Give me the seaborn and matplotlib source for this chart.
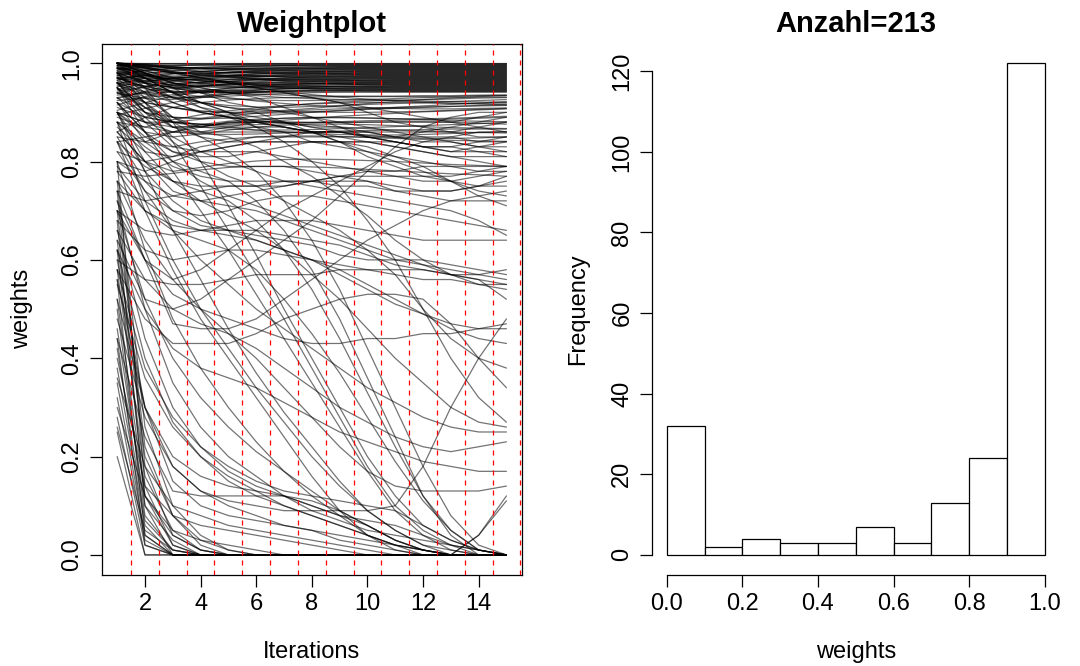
import numpy as np
import pandas as pd
import matplotlib
matplotlib.use("Agg")
import matplotlib.pyplot as plt
import seaborn as sns

# ---------------- data ----------------
iterations = list(range(1, 16))

# weight trajectories (in hundredths) for iterations 1..15
top_band = [
    "100 100 100 100 100 100 100 100 100 100 100 100 100 100 100",
    "99.5 99.8 99.9 99.9 99.9 99.9 99.9 99.9 99.9 99.9 99.9 99.9 99.9 99.9 99.9",
    "100 99.6 99.5 99.6 99.7 99.8 99.8 99.8 99.8 99.8 99.8 99.8 99.8 99.8 99.8",
    "98.6 99.2 99.5 99.6 99.7 99.7 99.7 99.7 99.7 99.7 99.7 99.7 99.7 99.7 99.7",
    "99.9 99.4 99.0 99.1 99.3 99.4 99.5 99.6 99.6 99.6 99.6 99.6 99.6 99.6 99.6",
    "97.4 98.5 99.0 99.2 99.3 99.4 99.5 99.5 99.5 99.5 99.5 99.5 99.5 99.5 99.5",
    "100 99.9 99.8 99.7 99.6 99.5 99.5 99.4 99.4 99.4 99.4 99.4 99.4 99.4 99.4",
    "99.0 98.2 97.9 98.3 98.7 99.0 99.1 99.2 99.3 99.3 99.3 99.3 99.3 99.3 99.3",
    "96.5 97.8 98.5 98.9 99.1 99.2 99.2 99.2 99.2 99.2 99.2 99.2 99.2 99.2 99.2",
    "100 99.6 99.2 99.0 98.9 98.9 99.0 99.0 99.1 99.1 99.1 99.1 99.1 99.1 99.1",
    "98.2 97.0 96.8 97.5 98.1 98.5 98.7 98.9 99.0 99.0 99.0 99.0 99.0 99.0 99.0",
    "99.5 99.3 99.1 99.0 98.9 98.9 98.9 98.9 98.9 98.9 98.9 98.9 98.9 98.9 98.9",
    "95.8 96.9 97.8 98.3 98.6 98.7 98.8 98.8 98.8 98.8 98.8 98.8 98.8 98.8 98.8",
    "100 98.9 98.0 97.9 98.1 98.3 98.5 98.6 98.7 98.7 98.7 98.7 98.7 98.7 98.7",
    "97.8 98.6 98.9 98.9 98.8 98.7 98.6 98.6 98.6 98.6 98.6 98.6 98.6 98.6 98.6",
    "99.2 97.6 96.5 96.7 97.3 97.8 98.1 98.3 98.4 98.5 98.5 98.5 98.5 98.5 98.5",
    "94.6 96.0 97.1 97.8 98.1 98.3 98.4 98.4 98.4 98.4 98.4 98.4 98.4 98.4 98.4",
    "100 99.7 99.3 99.0 98.7 98.5 98.4 98.3 98.3 98.3 98.3 98.3 98.3 98.3 98.3",
    "98.8 97.4 96.9 97.2 97.6 97.9 98.0 98.1 98.2 98.2 98.2 98.2 98.2 98.2 98.2",
    "96.9 97.5 97.9 98.0 98.1 98.1 98.1 98.1 98.1 98.1 98.1 98.1 98.1 98.1 98.1",
    "100 98.4 97.2 96.8 97.0 97.3 97.6 97.8 97.9 98.0 98.0 98.0 98.0 98.0 98.0",
    "99.6 99.0 98.6 98.3 98.1 98.0 97.9 97.9 97.9 97.9 97.9 97.9 97.9 97.9 97.9",
    "93.8 95.2 96.3 97.0 97.4 97.6 97.7 97.8 97.8 97.8 97.8 97.8 97.8 97.8 97.8",
    "98.5 96.8 95.9 96.1 96.7 97.1 97.4 97.5 97.6 97.7 97.7 97.7 97.7 97.7 97.7",
    "100 99.8 99.3 98.8 98.4 98.1 97.9 97.8 97.7 97.6 97.6 97.6 97.6 97.6 97.6",
    "97.0 97.3 97.4 97.5 97.5 97.5 97.5 97.5 97.5 97.5 97.5 97.5 97.5 97.5 97.5",
    "99.3 97.8 96.4 96.0 96.3 96.7 97.0 97.2 97.3 97.4 97.4 97.4 97.4 97.4 97.4",
    "95.2 96.4 97.0 97.2 97.3 97.3 97.3 97.3 97.3 97.3 97.3 97.3 97.3 97.3 97.3",
    "100 99.1 98.3 97.8 97.5 97.3 97.2 97.2 97.2 97.2 97.2 97.2 97.2 97.2 97.2",
    "98.0 96.4 95.5 95.7 96.2 96.6 96.8 96.9 97.0 97.1 97.1 97.1 97.1 97.1 97.1",
    "92.8 94.3 95.5 96.2 96.6 96.8 96.9 97.0 97.0 97.0 97.0 97.0 97.0 97.0 97.0",
    "99.8 99.5 99.0 98.4 97.9 97.5 97.2 97.0 96.9 96.9 96.9 96.9 96.9 96.9 96.9",
    "97.5 95.9 95.0 95.3 95.8 96.2 96.5 96.6 96.7 96.8 96.8 96.8 96.8 96.8 96.8",
    "96.1 96.4 96.6 96.7 96.7 96.7 96.7 96.7 96.7 96.7 96.7 96.7 96.7 96.7 96.7",
    "100 98.0 96.5 95.8 95.7 95.9 96.1 96.3 96.4 96.5 96.6 96.6 96.6 96.6 96.6",
    "94.3 95.2 95.8 96.1 96.3 96.4 96.5 96.5 96.5 96.5 96.5 96.5 96.5 96.5 96.5",
    "99.0 98.6 98.1 97.6 97.2 96.9 96.7 96.6 96.5 96.4 96.4 96.4 96.4 96.4 96.4",
    "97.0 95.2 94.2 94.4 94.9 95.4 95.7 95.9 96.1 96.2 96.3 96.3 96.3 96.3 96.3",
    "91.5 93.2 94.5 95.3 95.8 96.0 96.1 96.2 96.2 96.2 96.2 96.2 96.2 96.2 96.2",
    "100 99.2 98.3 97.6 97.1 96.7 96.4 96.3 96.2 96.1 96.1 96.1 96.1 96.1 96.1",
    "96.4 94.8 94.0 94.3 94.9 95.3 95.6 95.8 95.9 96.0 96.0 96.0 96.0 96.0 96.0",
    "98.2 97.5 96.9 96.5 96.2 96.0 95.9 95.9 95.9 95.9 95.9 95.9 95.9 95.9 95.9",
    "93.0 94.1 94.9 95.4 95.6 95.7 95.8 95.8 95.8 95.8 95.8 95.8 95.8 95.8 95.8",
    "99.5 97.6 95.9 95.2 95.0 95.1 95.3 95.5 95.6 95.7 95.7 95.7 95.7 95.7 95.7",
    "95.9 95.4 95.3 95.4 95.5 95.6 95.6 95.6 95.6 95.6 95.6 95.6 95.6 95.6 95.6",
    "100 99.6 98.9 98.1 97.4 96.8 96.3 96.0 95.8 95.6 95.5 95.5 95.5 95.5 95.5",
    "94.0 92.8 92.6 93.3 94.0 94.5 94.9 95.1 95.3 95.4 95.4 95.4 95.4 95.4 95.4",
    "97.6 96.3 95.6 95.3 95.2 95.2 95.3 95.3 95.3 95.3 95.3 95.3 95.3 95.3 95.3",
    "90.4 92.0 93.3 94.1 94.6 94.9 95.1 95.2 95.2 95.2 95.2 95.2 95.2 95.2 95.2",
    "99.0 97.0 95.4 94.6 94.4 94.5 94.7 94.9 95.0 95.1 95.1 95.1 95.1 95.1 95.1",
    "96.6 96.9 96.8 96.5 96.1 95.8 95.5 95.3 95.2 95.1 95.0 95.0 95.0 95.0 95.0",
    "92.4 93.0 93.6 94.1 94.4 94.6 94.8 94.9 94.9 94.9 94.9 94.9 94.9 94.9 94.9",
    "100 98.5 96.9 95.9 95.3 95.0 94.9 94.8 94.8 94.8 94.8 94.8 94.8 94.8 94.8",
    "95.5 93.7 92.9 93.2 93.7 94.1 94.4 94.5 94.6 94.7 94.7 94.7 94.7 94.7 94.7",
    "98.4 97.8 97.1 96.4 95.9 95.5 95.2 95.0 94.8 94.7 94.6 94.6 94.6 94.6 94.6",
    "89.5 90.8 92.0 93.0 93.7 94.1 94.3 94.4 94.5 94.5 94.5 94.5 94.5 94.5 94.5",
    "97.2 95.3 94.2 94.0 94.1 94.2 94.3 94.4 94.4 94.4 94.4 94.4 94.4 94.4 94.4",
    "100 99.3 98.2 97.1 96.2 95.5 95.0 94.7 94.5 94.4 94.3 94.3 94.3 94.3 94.3",
    "93.5 93.9 94.1 94.2 94.2 94.2 94.2 94.2 94.2 94.2 94.2 94.2 94.2 94.2 94.2",
    "96.0 94.2 93.1 93.0 93.3 93.6 93.8 94.0 94.1 94.1 94.1 94.1 94.1 94.1 94.1",
    "97 95 93 92 91.4 91.1 91 91.2 91.4 91.6 91.8 92 92.2 92.4 92.6",
    "99 96 94 93.2 92.8 92.5 92.4 92.4 92.5 92.6 92.8 93 93.2 93.4 93.5",
    "90 88 88 88.6 89.2 89.8 90.2 90.5 90.7 90.9 91 91.1 91.2 91.3 91.4",
    "96 93 91 90.2 89.9 89.8 89.9 90.1 90.4 90.7 91 91.3 91.6 91.9 92.2",
    "100 98 96 95 94 93.4 93 92.8 92.6 92.5 92.4 92.3 92.2 92.1 92.0",
    "93 90 89 88.7 88.8 89.2 89.6 90 90.3 90.6 90.8 91 91.2 91.4 91.6",
    "98 97 95 94 93 92.3 91.8 91.4 91.1 90.9 90.8 90.7 90.7 90.8 90.9",
    "86 89 91 92 92.5 92.8 93 93.1 93.2 93.3 93.3 93.4 93.4 93.5 93.5",
    "95 92 91 90.3 90 90.1 90.4 90.8 91.3 91.8 92.2 92.6 92.9 93.2 93.4",
    "99 99 98 97 96 95 94.2 93.6 93.1 92.7 92.4 92.1 91.9 91.7 91.5",
    "91 89 88 87.6 87.6 88 88.4 88.8 89.2 89.5 89.8 90.1 90.3 90.5 90.7",
    "97 96 95 94.4 94 93.7 93.5 93.4 93.3 93.2 93.2 93.2 93.1 93.1 93.1",
    "94 91 89 88.8 89.5 90.5 91.3 91.8 92.1 92.3 92.5 92.6 92.7 92.9 93.0",
    "100 97 94 92 91 90.5 90.2 90.1 90 90 90.1 90.2 90.4 90.6 90.8",
    "88 87 88.5 89.5 90.3 90.9 91.4 91.7 91.9 92 92 91.9 91.8 91.8 91.9",
]

upper_band = [
    "95 90 88 87.5 87.4 87.5 87.7 87.9 88.1 88.3 88.4 88.5 88.6 88.8 89",
    "98 93 89 87 86.6 86.4 86.4 86.5 86.7 86.9 87.1 87.3 87.5 87.7 88",
    "90 86 85 85.6 86.4 87 87.4 87.6 87.6 87.5 87.3 87.1 86.9 86.8 86.7",
    "100 96 92 90 89 88.3 87.8 87.4 87 86.7 86.4 86.2 86 85.9 85.8",
    "93 88 86 85.6 85.5 85.6 85.8 86 86.2 86.3 86.4 86.5 86.6 86.6 86.6",
    "85 84 86 87.5 88.2 88.6 88.8 88.9 88.9 88.8 88.7 88.7 88.8 89 89.2",
    "97 95 93 91 90 89 88 87 86 85.3 84.9 84.7 84.7 84.8 85",
    "88 84 83 84 84.6 85 85.2 85.2 85.1 84.9 84.7 84.5 84.3 84.2 84.1",
    "96 90 87 87 88 88 88 87 87 86 85 84 84 83 83",
    "99 98 96 94 92 91 90 89 88 87 86 85 84 83 82",
    "82 80 81 83 84 85 85 86 86 86 86 86 87 88 89",
    "94 92 91 90 89 88 87 86 86 85 85 86 86 87 88",
    "87 82 81 82 83 84 85 85 85 85 84 83 82 82 82",
    "100 99 98 97 96 95 94 93 92 91 90 89 88 87 86",
    "90 88 87 87.2 87.8 88.4 88.8 89 89 88.9 88.7 88.5 88.3 88.2 88.1",
    "96 94 92 90 89 88.3 88 87.9 87.9 88 88.1 88.1 88 87.8 87.6",
    "84 85 86 87 87 87 87 86 86 86 85 85 85 84 84",
    "98 96 95 94 94 94 94 93 92 90 88 87 86 85 85",
    "80 78 80 82 83 84 84 84 84 84 84 83 83 84 85",
    "92 89 88 87.6 87 86.4 86 85.7 85.5 85.4 85.4 85.5 85.7 85.9 86.1",
    "95 91 87 85 84 84 84 84 84 84 83 82 81 81 81",
    "89 87 86 86 87 88 88 88 88 88 88 88 88 89 90",
    "97 92 87 86 86 86 86 86 86 85 84 83 82 83 84",
    "100 98 96 95 94 93 91 89 87 85 84 83 83 82 81",
    "64 52 50 52 56 60 64 68 73 78 83 87 89 90 90",
    "74 60 56 58 62 66 70 73 76 79 82 84 85 86 86",
]

middle_band = [
    "95 88 83 82 82 82 81 80 79 78 77 76 76 77 78",
    "86 80 78 78.8 79.6 80.1 80.4 80.5 80.4 80.2 80 79.7 79.4 79.2 79",
    "98 96 93 92 91 90 88 86 84 81 79 77 76 75 75",
    "78 77 77.6 78.3 78.8 79 79 78.9 78.7 78.4 78.1 77.8 77.5 77.3 77",
    "92 86 82 80 79 79 79 78 77 76 74 73 72 72 72",
    "100 97 94 91 89 87 86 84 83 82 81 80 79 78 78",
    "84 79 76 75 75 75 76 76 77 77 77 77 77 78 79",
    "90 85 82 81 81 82 83 84 84 83 81 79 76 74 73",
    "74 72 73 74 75 75 75 76 76 76 75 74 74 75 76",
    "96 91 88 87 88 88 87 86 84 82 80 78 76 73 71",
    "88 83 79 77 76 76 76 76 75 75 74 74 74 75 77",
    "80 76 73 72 73 74 75 76 77 78 78 79 79 79 79",
    "99 97 94 92 90 88 87 86 85 84 83 82 81 80 79",
    "82 74 70 69 70 72 73 73 72 71 70 69 68 67 66",
    "96 90 85 82 80 78 76 75 74 73 72 71 70 68 65",
    "70 66 65 66 67 68 68 68 67 66 65 64 64 64 64",
    "90 80 74 72 71 70 68 66 64 62 60 59 58 57 56",
    "76 70 67 66 66 66 65 64 63 61 59 58 57 57 58",
    "98 94 89 86 85 83 80 77 73 69 64 60 57 55 54",
    "68 62 60 61 62 62 61 60 59 58 57 56 56 55 55",
    "85 76 70 67 66 65 64 63 61 60 60 60 59 58 57",
    "60 56 55 55 56 57 57 57 58 58 58 58 57 56 55",
    "92 86 80 76 73 71 69 67 65 63 61 59 57 56 52",
    "79 72 68 66 65 64 62 60 57 54 51 49 47 46 46",
    "70 60 53 50 48 46 44 43 43 44 44 45 45 46 47",
    "88 78 72 68 66 64 62 60 58 55 52 49 46 44 43",
    "95 89 84 80 77 75 72 69 66 62 57 50 44 40 38",
    "58 48 43 43 43 45 48 50 52 53 53 52 47 40 34",
    "72 60 47 46 46 48 52 56 60 64 67 70 72 73 74",
    "90 82 76 72 69 66 62 57 52 46 40 35 30 27 26",
    "66 56 50 47 45 42 38 34 30 27 24 22 21 22 23",
    "84 74 66 60 55 50 46 42 38 34 31 28 26 25 25",
    "100 98 95 92 90 87 84 80 75 68 60 50 40 32 27",
    "62 50 42 38 36 34 31 28 25 23 21 19 18 17 17",
    "76 64 56 50 45 40 34 28 22 17 14 13 13 13 14",
]

declining = [
    "88 72 60 50 42 34 27 20 14 9 5 2 1 0 0",
    "70 52 40 32 26 21 17 13 9 6 3 1 0 0 0",
    "55 36 26 20 16 13 10 8 6 4 2 1 0 0 0",
    "95 86 78 70 62 53 44 35 26 17 9 4 1 0 0",
    "48 28 18 13 10 8 6 5 3 2 1 0 0 0 0",
    "62 40 27 20 15 12 10 8 6 4 2 1 0 0 0",
    "80 62 48 38 30 23 17 12 8 4 2 1 0 0 0",
    "44 24 13 12 12 12 12 11 9 6 3 1 0 0 0",
    "36 18 10 8 6 5 4 3 2 1 0 0 0 0 0",
    "90 78 66 56 46 37 29 22 15 9 5 2 0 0 0",
    "52 30 20 16 14 13 12 10 8 6 3 1 0 0 0",
    "66 44 30 22 17 14 12 10 8 7 6 4 2 1 0",
    "30 12 5 3 2 1 0 0 0 0 0 0 0 0 0",
    "100 95 88 80 71 61 50 40 30 20 12 6 3 1 0",
    "58 38 28 22 18 15 13 12 11 10 9 6 3 1 0",
    "40 14 8 6 5 4 3 2 1 0 0 0 0 0 0",
    "26 5 1 0 0 0 0 0 0 0 0 0 0 0 0",
    "72 50 35 26 20 16 12 9 7 5 4 3 2 1 0",
    "98 92 84 75 66 57 48 38 28 18 10 5 2 0 0",
    "60 30 15 10 8 7 6 5 4 3 2 0 0 4 11",
    "56 30 18 13 11 10 9 9 9 9 10 18 30 40 48",
    "84 70 58 48 40 32 24 16 9 4 1 0 0 4 12",
    "96 92 88 85 82 78 72 64 54 42 30 18 8 2 0",
    "86 80 76 74 72 68 62 54 44 33 22 12 5 1 0",
    "78 70 66 64 62 58 52 45 37 28 19 11 5 1 0",
    "92 84 80 78 76 72 66 58 48 36 24 12 4 0 0",
]

fast_drop = [
    "20 0 0 0 0 0 0 0 0 0 0 0 0 0 0",
    "25 0 0 0 0 0 0 0 0 0 0 0 0 0 0",
    "32 3 0 0 0 0 0 0 0 0 0 0 0 0 0",
    "38 6 0 0 0 0 0 0 0 0 0 0 0 0 0",
    "44 2 0 0 0 0 0 0 0 0 0 0 0 0 0",
    "50 8 1 0 0 0 0 0 0 0 0 0 0 0 0",
    "56 4 0 0 0 0 0 0 0 0 0 0 0 0 0",
    "62 12 2 0 0 0 0 0 0 0 0 0 0 0 0",
    "68 10 0 0 0 0 0 0 0 0 0 0 0 0 0",
    "74 18 4 1 0 0 0 0 0 0 0 0 0 0 0",
    "80 14 2 0 0 0 0 0 0 0 0 0 0 0 0",
    "28 2 0 0 0 0 0 0 0 0 0 0 0 0 0",
    "46 10 3 0 0 0 0 0 0 0 0 0 0 0 0",
    "58 16 5 1 0 0 0 0 0 0 0 0 0 0 0",
    "70 22 8 2 0 0 0 0 0 0 0 0 0 0 0",
    "35 4 0 0 0 0 0 0 0 0 0 0 0 0 0",
    "52 12 4 1 0 0 0 0 0 0 0 0 0 0 0",
    "64 20 8 3 1 0 0 0 0 0 0 0 0 0 0",
    "76 26 10 4 1 0 0 0 0 0 0 0 0 0 0",
    "42 7 1 0 0 0 0 0 0 0 0 0 0 0 0",
]

# histogram of final weights (Anzahl = 213)
hist_edges = [0.0, 0.1, 0.2, 0.3, 0.4, 0.5, 0.6, 0.7, 0.8, 0.9, 1.0]
hist_counts = [32, 2, 4, 3, 3, 7, 3, 13, 24, 122]
n_total = 213

cut_points = [1.5, 2.5, 3.5, 4.5, 5.5, 6.5, 7.5, 8.5, 9.5, 10.5, 11.5, 12.5, 13.5, 14.5, 15.5]
x_ticks = [2, 4, 6, 8, 10, 12, 14]
w_ticks = [0.0, 0.2, 0.4, 0.6, 0.8, 1.0]
freq_ticks = [0, 20, 40, 60, 80, 100, 120]

# ---------------- build long table ----------------
rows = []
tid = 0
for group in (top_band, upper_band, middle_band, declining, fast_drop):
    for s in group:
        vals = [float(v) / 100 for v in s.split()]
        assert len(vals) == len(iterations), s
        for it, w in zip(iterations, vals):
            rows.append((tid, it, w))
        tid += 1
df = pd.DataFrame(rows, columns=["traj", "Iterations", "weights"])

hist_df = pd.DataFrame({
    "weights": [(a + b) / 2 for a, b in zip(hist_edges[:-1], hist_edges[1:])],
    "count": hist_counts,
})

# ---------------- style ----------------
sns.set_style("white")
plt.rcParams["font.family"] = ["Liberation Sans", "DejaVu Sans"]
plt.rcParams["axes.linewidth"] = 0.9
for key in ("text.color", "axes.labelcolor", "xtick.color", "ytick.color", "axes.edgecolor"):
    plt.rcParams[key] = "black"

W, H = 1080, 666
fig = plt.figure(figsize=(W / 100, H / 100), dpi=100)
fig.patch.set_facecolor("white")

def ax_rect(x0, y0, x1, y1):
    return [x0 / W, 1 - y1 / H, (x1 - x0) / W, (y1 - y0) / H]

ax1 = fig.add_axes(ax_rect(101.6, 43.5, 522.0, 574.6))
ax2 = fig.add_axes(ax_rect(651.6, 43.5, 1060.0, 574.6))

TICK_FS = 17
LAB_FS = 17

# ---- left: weight trajectories ----
sns.lineplot(data=df, x="Iterations", y="weights", units="traj", estimator=None,
             color="black", alpha=0.55, linewidth=0.9, ax=ax1, legend=False, sort=False)
for v in cut_points:
    ax1.axvline(v, color="red", linewidth=0.9, linestyle=(0, (4, 4)), zorder=5)
ax1.set_xlim(0.44, 15.56)
ax1.set_ylim(-0.04, 1.04)
ax1.set_xticks(x_ticks)
ax1.set_xticklabels([str(t) for t in x_ticks])
ax1.set_yticks(w_ticks)
ax1.set_yticklabels([f"{t:.1f}" for t in w_ticks])
for sp in ax1.spines.values():
    sp.set_visible(True)
    sp.set_color("black")
    sp.set_linewidth(0.9)
ax1.set_title("Weightplot", fontsize=21, fontweight="bold", pad=8, color="black")
ax1.set_xlabel("Iterations", fontsize=LAB_FS, color="black")
ax1.set_ylabel("weights", fontsize=LAB_FS, color="black")
ax1.xaxis.set_label_coords(0.5, -0.146)
ax1.xaxis.label.set_va("center")
ax1.yaxis.set_label_coords(-0.189, 0.5)
ax1.yaxis.label.set_va("center")

# ---- right: histogram ----
sns.histplot(data=hist_df, x="weights", weights="count", bins=hist_edges, ax=ax2,
             color="white", edgecolor="black", linewidth=0.9, alpha=1)
ax2.set_xlim(-0.04, 1.04)
ax2.set_ylim(-4.88, 126.88)
ax2.set_xticks(w_ticks)
ax2.set_xticklabels([f"{t:.1f}" for t in w_ticks])
ax2.set_yticks(freq_ticks)
ax2.set_yticklabels([str(t) for t in freq_ticks])
for side in ("top", "right"):
    ax2.spines[side].set_visible(False)
ax2.spines["left"].set_bounds(0, 120)
ax2.spines["bottom"].set_bounds(0, 1.0)
for side in ("left", "bottom"):
    ax2.spines[side].set_color("black")
    ax2.spines[side].set_linewidth(0.9)
ax2.set_title(f"Anzahl={n_total}", fontsize=21, fontweight="bold", pad=8, color="black")
ax2.set_xlabel("weights", fontsize=LAB_FS, color="black")
ax2.set_ylabel("Frequency", fontsize=LAB_FS, color="black")
ax2.xaxis.set_label_coords(0.5, -0.146)
ax2.xaxis.label.set_va("center")
ax2.yaxis.set_label_coords(-0.180, 0.5)
ax2.yaxis.label.set_va("center")

for ax in (ax1, ax2):
    ax.grid(False)
    ax.set_facecolor("white")
    ax.tick_params(axis="both", direction="out", length=8.6, width=0.9,
                   color="black", labelsize=TICK_FS, labelcolor="black",
                   bottom=True, left=True, top=False, right=False)
    ax.tick_params(axis="x", pad=4.6)
    ax.tick_params(axis="y", pad=4.6)
    for lab in ax.get_yticklabels():
        lab.set_rotation(90)
        lab.set_va("center")
        lab.set_ha("right")

fig.savefig("out.png", dpi=100, facecolor="white")
